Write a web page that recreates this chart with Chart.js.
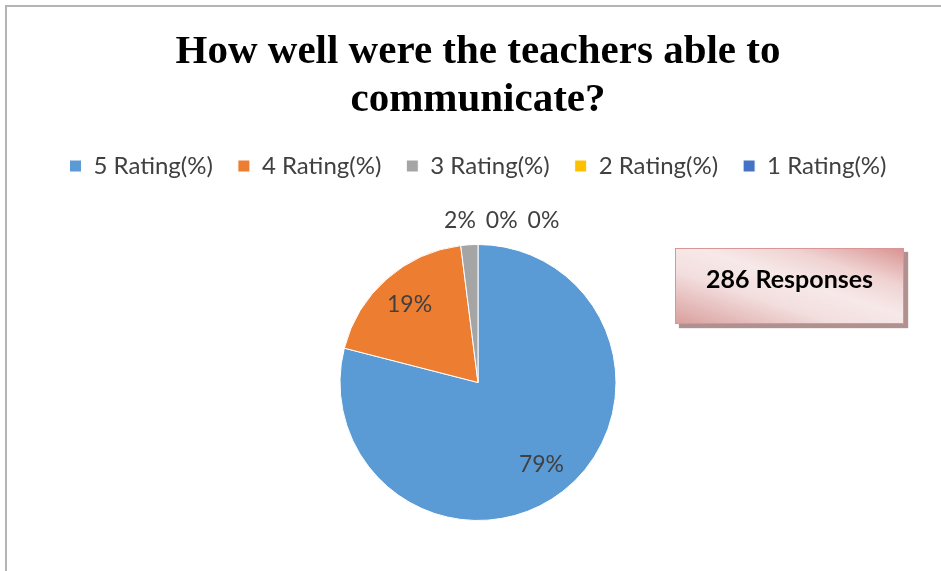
<!DOCTYPE html>
<html>
<head>
<meta charset="utf-8">
<script src="https://cdn.jsdelivr.net/npm/chart.js@4.4.1/dist/chart.umd.min.js"></script>
<style>
  html, body { margin: 0; padding: 0; background: #fff; width: 941px; height: 571px; overflow: hidden; }
  #wrap { position: absolute; left: 0; top: 0; width: 941px; height: 590px; }
  #frame { position: absolute; left: 5px; top: 5px; width: 960px; height: 600px;
           border-top: 2px solid #b4b4b4; border-left: 2px solid #b4b4b4; }
  #resp { position: absolute; left: 675px; top: 248px; width: 229px; height: 76px;
          box-sizing: border-box; padding-bottom: 16px;
          border: 1px solid #d99694;
          background: linear-gradient(to top right, #d9a09e 0%, #f3dede 35%, #f7e9e9 55%, #efd3d2 75%, #d99492 100%);
          box-shadow: 4px 4px 1px #b09190;
          display: flex; align-items: center; justify-content: center;
          font-family: Lato, sans-serif; font-weight: bold; font-size: 25px; color: #000; }
</style>
</head>
<body>
<div id="frame"></div>
<div id="wrap"><canvas id="c" width="941" height="590"></canvas></div>
<div id="resp">286 Responses</div>
<script>
const categories = ['5 Rating(%)', '4 Rating(%)', '3 Rating(%)', '2 Rating(%)', '1 Rating(%)'];
const values = [79, 19, 2, 0, 0];
const colors = ['#5B9BD5', '#ED7D31', '#A5A5A5', '#FFC000', '#4472C4'];
const titleLines = ['How well were the teachers able to', 'communicate?'];

const labelPlugin = {
  id: 'pieLabels',
  afterDatasetsDraw(chart) {
    const ctx = chart.ctx;
    const meta = chart.getDatasetMeta(0);
    const total = values.reduce((a, b) => a + b, 0);
    ctx.save();
    ctx.font = '23px Lato';
    ctx.fillStyle = '#404040';
    ctx.textBaseline = 'middle';
    ctx.textAlign = 'center';
    let chainX = null, chainY = null, prevW = 0;
    meta.data.forEach((arc, i) => {
      const p = arc.getProps(['x', 'y', 'startAngle', 'endAngle', 'outerRadius'], true);
      const mid = (p.startAngle + p.endAngle) / 2;
      const txt = Math.round(values[i] / total * 100) + '%';
      const w = ctx.measureText(txt).width;
      if (values[i] / total >= 0.08) {
        const r = p.outerRadius * 0.75;
        ctx.fillText(txt, p.x + Math.cos(mid) * r, p.y + Math.sin(mid) * r);
      } else {
        const r = p.outerRadius + 24;
        if (chainX === null) {
          const ax = p.x + Math.cos(mid) * r;
          chainY = p.y + Math.sin(mid) * r;
          chainX = ax + 8 - w / 2;
        } else {
          chainX = chainX + prevW / 2 + 10 + w / 2;
        }
        ctx.fillText(txt, chainX, chainY);
        prevW = w;
      }
    });
    ctx.restore();
  }
};

new Chart(document.getElementById('c'), {
  type: 'pie',
  data: {
    labels: categories,
    datasets: [{
      data: values,
      backgroundColor: colors,
      borderColor: '#ffffff',
      borderWidth: 1,
      radius: 138
    }]
  },
  options: {
    responsive: false,
    animation: false,
    layout: { padding: { left: 15, right: 0, top: 0, bottom: 13 } },
    plugins: {
      title: {
        display: true,
        text: titleLines,
        color: '#000',
        font: { family: '"Liberation Serif", "Times New Roman", serif', size: 41, weight: 'bold', lineHeight: '48px' },
        padding: { top: 28, bottom: 5 }
      },
      legend: {
        position: 'top',
        labels: {
          color: '#404040',
          font: { family: 'Lato', size: 24 },
          boxWidth: 12,
          boxHeight: 12,
          padding: 25
        }
      },
      tooltip: { enabled: false }
    }
  },
  plugins: [labelPlugin]
});
</script>
</body>
</html>
